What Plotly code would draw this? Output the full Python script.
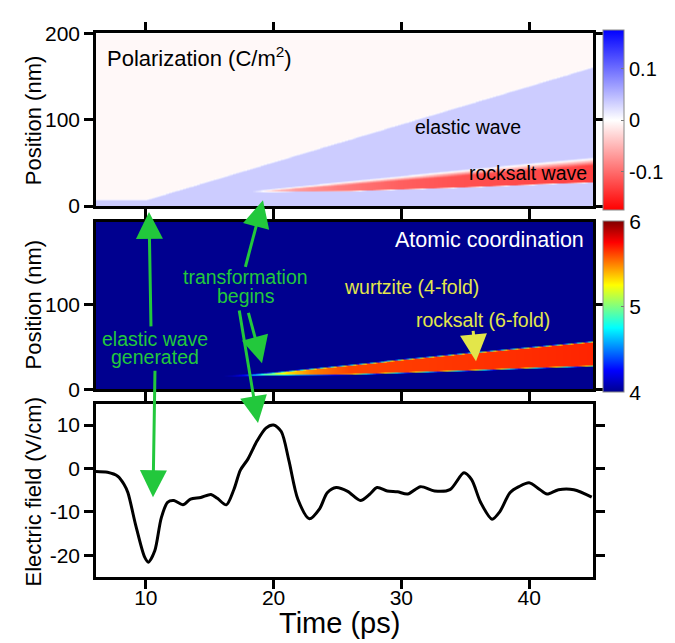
import numpy as np
import plotly.graph_objects as go

W, H = 675, 643
FONT = "Liberation Sans, Arial, sans-serif"

# ---------------- data ----------------
# bottom panel: electric field (V/cm) vs time (ps)
time_ps = [6.1, 7.0, 7.8, 8.3, 8.6, 9.2, 9.9, 10.2, 10.7, 11.2, 11.7, 12.2, 12.9, 13.5,
           14.3, 15.1, 15.6, 16.3, 16.9, 17.4, 18.0, 18.7, 19.4, 20.0, 20.6, 21.2,
           21.9, 22.8, 23.6, 24.2, 24.9, 25.8, 26.8, 27.5, 28.1, 28.9, 29.7, 30.5,
           31.5, 32.6, 33.8, 34.9, 35.5, 36.2, 37.1, 37.7, 38.5, 39.2, 40.0, 40.8,
           41.4, 42.3, 43.5, 44.9]
field = [-0.7, -0.9, -1.8, -3.7, -5.6, -13.0, -20.4, -21.6, -19.0, -11.5, -7.8, -7.4,
         -8.4, -7.1, -6.7, -6.0, -6.9, -8.4, -4.8, -0.4, 2.2, 6.3, 9.3, 10.0, 8.5, 1.8,
         -7.1, -11.6, -9.3, -5.6, -4.4, -5.3, -7.4, -6.0, -4.4, -5.2, -5.4, -5.9,
         -4.2, -5.2, -4.9, -1.0, -2.6, -7.8, -11.7, -10.0, -5.6, -4.2, -3.3, -4.8,
         -5.9, -4.9, -4.9, -6.6]

# elastic wave front (position nm vs time ps)
front_t = [6.1, 10.0, 45.0]
front_pos = [7.0, 7.0, 161.0]

# rocksalt band edges (nm) vs time (ps)
band_t = [16, 18, 20, 22, 26, 30, 35, 40, 45]
band_top = [16.5, 18, 20.5, 23.5, 29.5, 35.5, 43, 50, 57]
band_bot = [15.0, 15.5, 16, 16.5, 17, 19, 21.5, 24.5, 27]

# polarization levels (C/m^2)
pol_bg = -0.005
pol_elastic = 0.035
pol_band_start = 18.3
pol_t = [19.0, 20.0, 22, 25, 30, 35, 40, 45]
pol_amp = [0.0, -0.04, -0.07, -0.09, -0.11, -0.12, -0.125, -0.13]

# atomic coordination inside the rocksalt band
coord_bg = 4.0
coord_t = [16.0, 17.5, 19, 21, 23, 26, 45]
coord_val = [4.0, 4.5, 4.9, 5.3, 5.5, 5.62, 5.68]

x_ticks = [10, 20, 30, 40]
pos_ticks = [0, 100, 200]
field_ticks = [-20, -10, 0, 10]
field_ticktext = ["-20", "-10", "0", "10"]
pol_ticks = [-0.1, 0, 0.1]
pol_ticktext = ["-0.1", "0", "0.1"]
coord_ticks = [4, 5, 6]

# ---------------- fields built from the values above ----------------
tt = np.linspace(6.1, 45, 320)
pp1 = np.linspace(0, 200, 500)
T1, P1 = np.meshgrid(tt, pp1)
front = np.interp(T1, front_t, front_pos)
s = np.clip((front - P1) / 2.0 + 0.5, 0, 1)
zpol = pol_bg + (pol_elastic - pol_bg) * s
top1 = np.interp(T1, band_t, band_top)
bot1 = np.interp(T1, band_t, band_bot)
wt1 = 1.0 + 0.3 * (top1 - bot1)
m1 = np.clip((P1 - bot1) / 1.0, 0, 1) * np.clip((top1 - P1) / wt1, 0, 1)
m1 = m1 * np.clip((T1 - pol_band_start) / 0.8, 0, 1)
amp1 = np.interp(T1, pol_t, pol_amp)
zpol = zpol * (1 - m1) + amp1 * m1

pp2 = np.linspace(0, 198, 500)
T2, P2 = np.meshgrid(tt, pp2)
top2 = np.interp(T2, band_t, band_top)
bot2 = np.interp(T2, band_t, band_bot)
m2 = np.clip((P2 - bot2) / 1.4, 0, 1) * np.clip((top2 - P2) / 1.4, 0, 1)
amp2 = np.interp(T2, coord_t, coord_val)
zcoord = coord_bg + (amp2 - coord_bg) * m2


def px(x):
    return x / W


def py(y):
    return 1 - y / H


fig = go.Figure()

fig.add_trace(go.Heatmap(
    x=tt, y=pp1, z=zpol, xaxis="x", yaxis="y", zsmooth="best",
    zmin=-0.175, zmax=0.175,
    colorscale=[[0, "#ff0000"], [0.5, "#ffffff"], [1, "#0000ff"]],
    hoverinfo="skip",
    colorbar=dict(x=px(595), xanchor="left", xpad=0, ypad=0, thickness=21,
                  lenmode="pixels", len=180, y=py(104), yanchor="middle",
                  outlinewidth=1, outlinecolor="#888888",
                  tickvals=pol_ticks, ticktext=pol_ticktext,
                  ticks="inside", ticklen=3, tickcolor="#777777",
                  tickfont=dict(size=20, family=FONT, color="black")),
))

jet = [[0, "#00008f"], [0.125, "#0000ff"], [0.375, "#00ffff"],
       [0.625, "#ffff00"], [0.875, "#ff0000"], [1, "#800000"]]
fig.add_trace(go.Heatmap(
    x=tt, y=pp2, z=zcoord, xaxis="x2", yaxis="y2", zsmooth="best",
    zmin=4, zmax=6, colorscale=jet, hoverinfo="skip",
    colorbar=dict(x=px(595), xanchor="left", xpad=0, ypad=0, thickness=21,
                  lenmode="pixels", len=171, y=py(297.5), yanchor="middle",
                  outlinewidth=1, outlinecolor="#888888", tickvals=coord_ticks,
                  ticks="inside", ticklen=3, tickcolor="#777777",
                  tickfont=dict(size=21, family=FONT, color="black")),
))

fig.add_trace(go.Scatter(
    x=time_ps, y=field, xaxis="x3", yaxis="y3", mode="lines",
    line=dict(color="black", width=3, shape="spline", smoothing=0.8),
    showlegend=False, hoverinfo="skip",
))

axis_common = dict(showline=True, linewidth=2.5, linecolor="black", mirror="ticks",
                   ticks="outside", ticklen=9, tickwidth=2.5, tickcolor="black",
                   showgrid=False, zeroline=False,
                   tickfont=dict(size=21, family=FONT, color="black"))

xdom = [px(88), px(585)]
fig.update_layout(
    width=W, height=H, margin=dict(l=0, r=0, t=0, b=0),
    paper_bgcolor="white", plot_bgcolor="white", showlegend=False,
    font=dict(family=FONT, color="black"),
    xaxis=dict(domain=xdom, anchor="y", range=[6.1, 45], tickvals=x_ticks,
               showticklabels=False, **axis_common),
    yaxis=dict(domain=[py(193), py(14)], anchor="x", range=[0, 200],
               tickvals=pos_ticks, **axis_common),
    xaxis2=dict(domain=xdom, anchor="y2", range=[6.1, 45], tickvals=x_ticks,
                showticklabels=False, **axis_common),
    yaxis2=dict(domain=[py(383), py(209)], anchor="x2", range=[0, 197.7],
                tickvals=[0, 100], **axis_common),
    xaxis3=dict(domain=xdom, anchor="y3", range=[6.1, 45], tickvals=x_ticks,
                ticklabelstandoff=-9, **axis_common),
    yaxis3=dict(domain=[py(578), py(398)], anchor="x3", range=[-25.1, 14.9],
                tickvals=field_ticks, ticktext=field_ticktext, **axis_common),
)

ann = []


def text(x, y, s, size=19, color="black", xanchor="center", angle=0):
    ann.append(dict(x=px(x), y=py(y), xref="paper", yref="paper", text=s,
                    showarrow=False, xanchor=xanchor, yanchor="middle",
                    textangle=angle, font=dict(size=size, family=FONT, color=color)))


text(25, 104, "Position (nm)", 22, angle=-90)
text(25, 295, "Position (nm)", 22, angle=-90)
text(25, 490, "Electric field (V/cm)", 22, angle=-90)
text(331, 625, "Time (ps)", 29)

text(97, 38, "Polarization (C/m<sup>2</sup>)", 22, xanchor="left")
text(460, 111, "elastic wave", 19.5)
text(520, 159, "rocksalt wave", 19.5)
text(578, 228, "Atomic coordination", 21.5, color="white", xanchor="right")
text(403, 277, "wurtzite (4-fold)", 19.5, color="#e3e64a")
text(475, 311, "rocksalt (6-fold)", 19.5, color="#e3e64a")

GREEN = "#22c83c"
text(147, 331, "elastic wave", 19.5, color=GREEN)
text(147, 350, "generated", 19.5, color=GREEN)
text(238, 267, "transformation", 19.5, color=GREEN)
text(238, 286, "begins", 19.5, color=GREEN)


def arrow(tail, tip, color=GREEN):
    ann.append(dict(x=px(tip[0]), y=py(tip[1]), xref="paper", yref="paper",
                    ax=tail[0] - tip[0], ay=tail[1] - tip[1], text="",
                    showarrow=True, arrowhead=2, arrowsize=1.8, arrowwidth=3,
                    arrowcolor=color, standoff=0, startstandoff=0))


arrow((143, 315), (141, 199))
arrow((147, 367), (145, 495))
arrow((237, 255), (255, 187))
arrow((240, 304), (254, 356))
arrow((231, 304), (250, 418))
arrow((465, 322), (468, 354), "#e3e64a")

fig.update_layout(annotations=ann)
fig.write_html("out.html")
